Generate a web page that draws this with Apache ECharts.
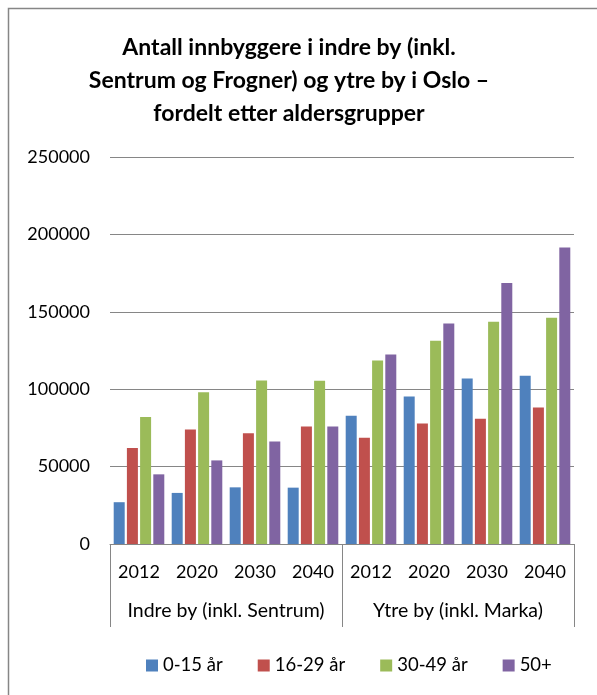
<!DOCTYPE html>
<html>
<head>
<meta charset="utf-8">
<script src="https://cdn.jsdelivr.net/npm/echarts@6/dist/echarts.min.js"></script>
<style>
  html, body { margin: 0; padding: 0; background: #fff; }
  #chart { width: 597px; height: 695px; }
</style>
</head>
<body>
<div id="chart"></div>
<script>
// kategorier
const years = ['2012', '2020', '2030', '2040', '2012', '2020', '2030', '2040']
const areas = ['Indre by (inkl. Sentrum)', 'Ytre by (inkl. Marka)']
// aldersgrupper
const age0to15 = [27000, 33000, 36600, 36400, 82800, 95300, 106900, 108700]
const age16to29 = [62000, 74000, 71500, 75900, 68600, 77800, 80900, 88200]
const age30to49 = [82000, 98000, 105600, 105400, 118600, 131300, 143600, 146200]
const age50plus = [45000, 54000, 66200, 75900, 122400, 142500, 168600, 191500]

const font = 'Lato, "Open Sans", sans-serif'
const grey = '#868686'

const chart = echarts.init(document.getElementById('chart'))

function bar(name, data, color) {
  return {
    name: name,
    type: 'bar',
    data: data,
    barWidth: 11,
    barGap: '20%',
    itemStyle: { color: color },
    emphasis: { disabled: true }
  }
}

chart.setOption({
  animation: false,
  textStyle: { fontFamily: font },
  title: {
    text: 'Antall innbyggere i indre by (inkl.\nSentrum og Frogner) og ytre by i Oslo –\nfordelt etter aldersgrupper',
    left: 284,
    top: 26,
    textAlign: 'center',
    textStyle: {
      fontFamily: font,
      fontSize: 23,
      fontWeight: 'bold',
      color: '#000',
      lineHeight: 33
    }
  },
  graphic: [
    {
      type: 'rect',
      shape: { x: 8.5, y: 8.5, width: 700, height: 800 },
      style: { fill: 'none', stroke: grey, lineWidth: 1.5 }
    }
  ],
  legend: {
    left: 141,
    top: 651,
    itemWidth: 12,
    itemHeight: 12,
    itemGap: 35,
    icon: 'rect',
    textStyle: { fontFamily: font, fontSize: 18.5, color: '#000' },
    data: ['0-15 år', '16-29 år', '30-49 år', '50+']
  },
  grid: {
    left: 110,
    right: 23,
    top: 157,
    bottom: 151
  },
  xAxis: [
    {
      type: 'category',
      data: years,
      axisLine: { lineStyle: { color: grey } },
      axisTick: { show: false },
      axisLabel: { color: '#000', fontSize: 18, margin: 19, interval: 0 }
    },
    {
      type: 'category',
      data: areas,
      position: 'bottom',
      offset: 0,
      axisLine: { show: false },
      axisTick: { show: true, length: 83, lineStyle: { color: grey } },
      axisLabel: { color: '#000', fontSize: 19.5, margin: 57, interval: 0 }
    }
  ],
  yAxis: {
    type: 'value',
    min: 0,
    max: 250000,
    interval: 50000,
    axisLine: { show: false },
    axisTick: { show: false },
    axisLabel: { color: '#000', fontSize: 18, margin: 20, formatter: v => String(v) },
    splitLine: { lineStyle: { color: grey } }
  },
  series: [
    bar('0-15 år', age0to15, '#4F81BD'),
    bar('16-29 år', age16to29, '#C0504D'),
    bar('30-49 år', age30to49, '#9BBB59'),
    bar('50+', age50plus, '#8064A2')
  ]
})
</script>
</body>
</html>
